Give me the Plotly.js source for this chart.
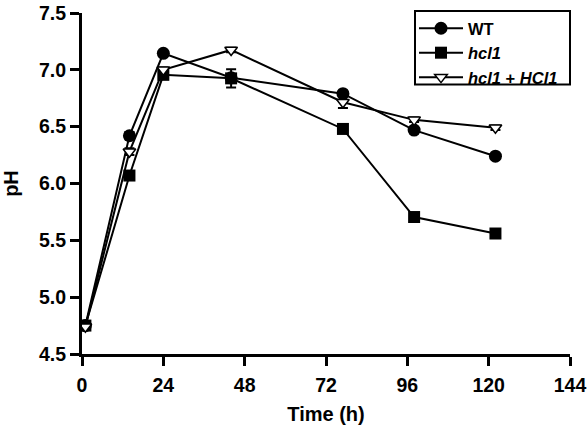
<!DOCTYPE html>
<html>
<head>
<meta charset="utf-8">
<script src="https://cdn.plot.ly/plotly-3.0.1.min.js"></script>
<style>
html,body{margin:0;padding:0;background:#fff;}
#chart{width:588px;height:426px;}
</style>
</head>
<body>
<div id="chart"></div>
<script>
const timeWT = [1, 14, 24, 44, 77, 98, 122];
const phWT = [4.75, 6.42, 7.145, 6.93, 6.79, 6.47, 6.24];
const errWT = [0.02, 0.03, 0.02, 0.03, 0.02, 0.02, 0.02];

const timeHcl1 = [1, 14, 24, 44, 77, 98, 122];
const phHcl1 = [4.75, 6.07, 6.956, 6.925, 6.48, 5.705, 5.56];
const errHcl1 = [0.02, 0.03, 0.03, 0.08, 0.02, 0.02, 0.02];

const timeComp = [1, 14, 24, 44, 77, 98, 122];
const phComp = [4.74, 6.28, 7.0, 7.175, 6.715, 6.56, 6.49];
const errComp = [0.02, 0.03, 0.02, 0.02, 0.05, 0.02, 0.02];

const names = ['<b>WT</b>', '<b><i>hcl1</i></b>', '<b><i>hcl1</i> + <i>HCl1</i></b>'];
const xTicks = [0, 24, 48, 72, 96, 120, 144];
const yTicks = [4.5, 5.0, 5.5, 6.0, 6.5, 7.0, 7.5];

function errObj(arr){
  return {type:'data', array:arr, visible:true, color:'#000', thickness:2, width:5};
}

const traces = [
  {x: timeWT, y: phWT, name: names[0], type:'scatter', mode:'lines+markers',
   error_y: errObj(errWT),
   line:{color:'#000', width:2},
   marker:{symbol:'circle', size:13, color:'#000', line:{color:'#000', width:0}}},
  {x: timeHcl1, y: phHcl1, name: names[1], type:'scatter', mode:'lines+markers',
   error_y: errObj(errHcl1),
   line:{color:'#000', width:2},
   marker:{symbol:'square', size:12, color:'#000', line:{color:'#000', width:0}}},
  {x: timeComp, y: phComp, name: names[2], type:'scatter', mode:'lines+markers',
   error_y: errObj(errComp),
   line:{color:'#000', width:2},
   marker:{symbol:'triangle-down', size:11, color:'#fff', line:{color:'#000', width:1.5}}}
];

// plot area: x 82..570 px, y 11..354 px
const W = 488, H = 343;
const layout = {
  width:588, height:426,
  margin:{l:82, r:18, t:11, b:72, pad:0},
  paper_bgcolor:'#fff', plot_bgcolor:'#fff',
  font:{family:'Liberation Sans, Arial, sans-serif', color:'#000'},
  showlegend:true,
  legend:{x:(414-82)/W, xanchor:'left', y:(354-9)/H, yanchor:'top',
    borderwidth:0, bgcolor:'rgba(0,0,0,0)',
    font:{size:16.5, family:'Liberation Sans, Arial, sans-serif', color:'#000'},
    tracegroupgap:0, itemwidth:44},
  shapes:[{type:'rect', xref:'paper', yref:'paper',
    x0:(415-82)/W, x1:(570-82)/W, y0:(354-83)/H, y1:(354-9)/H,
    line:{color:'#000', width:2}, fillcolor:'#fff', layer:'above'}],
  xaxis:{range:[0,144], tickvals:xTicks, ticktext:xTicks.map(v=>'<b>'+v+'</b>'),
    showline:true, linecolor:'#000', linewidth:3, mirror:false,
    ticks:'outside', ticklen:9, tickwidth:3, tickcolor:'#000',
    showgrid:false, zeroline:false, ticklabelstandoff:3,
    tickfont:{size:19.5, color:'#000'},
    title:{text:'<b>Time (h)</b>', font:{size:20, color:'#000'}, standoff:12}},
  yaxis:{range:[4.5,7.5], tickvals:yTicks, ticktext:yTicks.map(v=>'<b>'+v.toFixed(1)+'</b>'),
    showline:true, linecolor:'#000', linewidth:3, mirror:false,
    ticks:'outside', ticklen:9, tickwidth:3, tickcolor:'#000',
    showgrid:false, zeroline:false,
    tickfont:{size:19.5, color:'#000'},
    title:{text:'<b>pH</b>', font:{size:20, color:'#000'}, standoff:18}}
};

Plotly.newPlot('chart', traces, layout, {displayModeBar:false, staticPlot:true});
</script>
</body>
</html>
